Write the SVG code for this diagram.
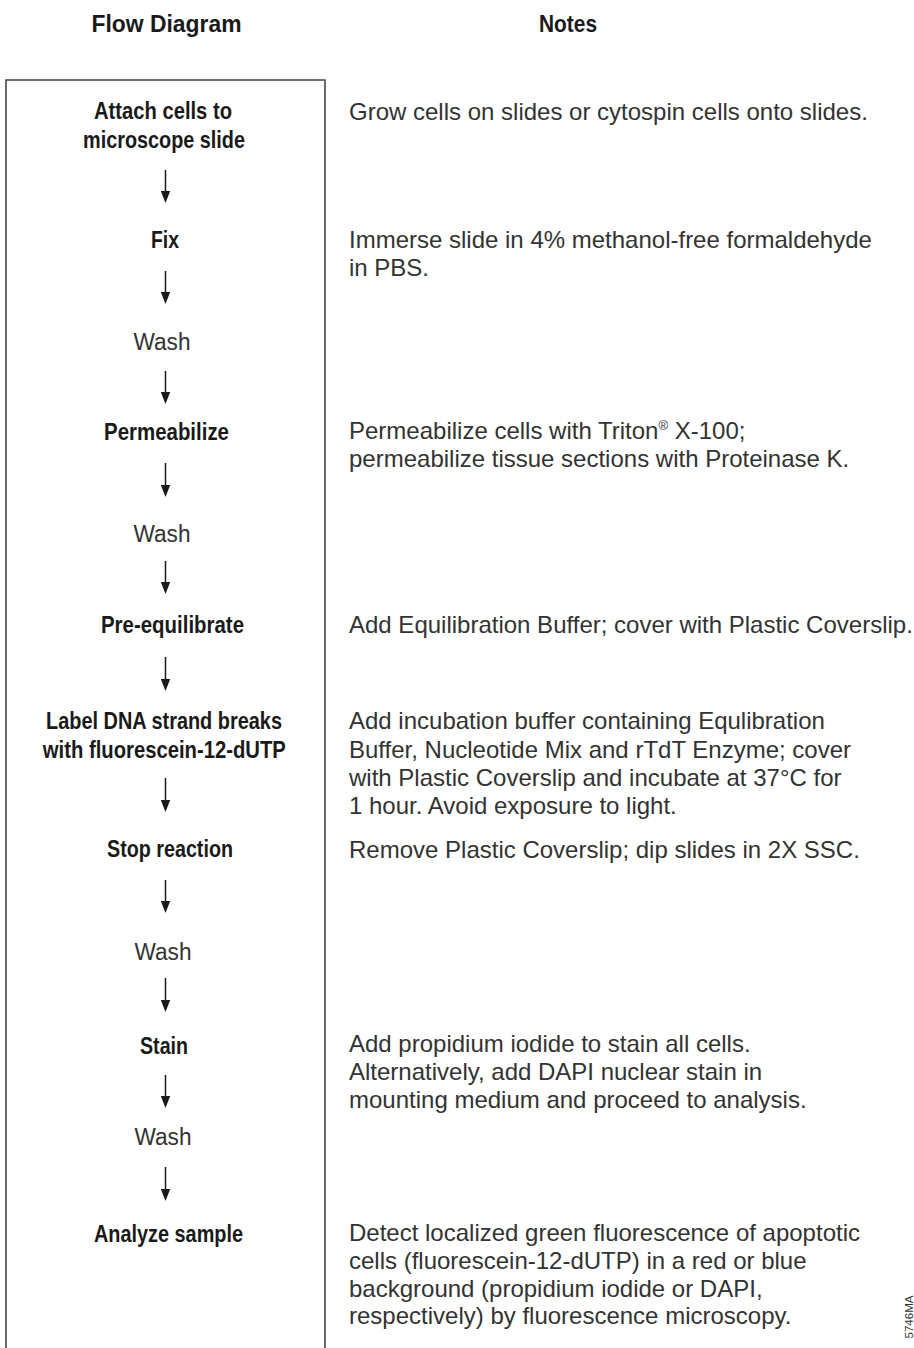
<svg xmlns="http://www.w3.org/2000/svg" width="914" height="1348" viewBox="0 0 914 1348">
  <defs>
    <style>
      .hd { font-family: "Liberation Sans", Arial, sans-serif; font-weight: bold; font-size: 24.5px; fill: #1a1a1a; text-anchor: middle; }
      .lb { font-family: "Liberation Sans", Arial, sans-serif; font-weight: bold; font-size: 24px; fill: #1a1a1a; text-anchor: middle; }
      .wash { font-family: "Liberation Sans", Arial, sans-serif; font-size: 23px; fill: #333; text-anchor: middle; }
      .nt { font-family: "Liberation Sans", Arial, sans-serif; font-size: 24px; fill: #333; }
      .frame { fill: none; stroke: #444; stroke-width: 1.6; }
      .arr { stroke: #1a1a1a; stroke-width: 1.5; fill: none; marker-end: url(#ah); }
      .code { font-family: "Liberation Sans", Arial, sans-serif; font-size: 11.5px; fill: #333; text-anchor: middle; }
    </style>
    <marker id="ah" markerUnits="userSpaceOnUse" viewBox="0 0 12 10" markerWidth="12" markerHeight="10" refX="6" refY="5" orient="auto">
      <path d="M0,0.3 L12,5 L0,9.7 Z" fill="#1a1a1a"/>
    </marker>
  </defs>
  <rect width="914" height="1348" fill="#ffffff"/>

  <g id="headers">
    <text class="hd" x="166.5" y="32" textLength="150" lengthAdjust="spacingAndGlyphs">Flow Diagram</text>
    <text class="hd" x="568" y="32" textLength="58" lengthAdjust="spacingAndGlyphs">Notes</text>
  </g>

  <path id="frame" class="frame" d="M6,1348 V80 H325 V1348"/>

  <g id="step-attach">
    <text class="lb" x="163" y="119" textLength="138" lengthAdjust="spacingAndGlyphs">Attach cells to</text>
    <text class="lb" x="164" y="148" textLength="162" lengthAdjust="spacingAndGlyphs">microscope slide</text>
    <text class="nt" x="349" y="120">Grow cells on slides or cytospin cells onto slides.</text>
  </g>
  <g id="step-fix">
    <text class="lb" x="165" y="248" textLength="28" lengthAdjust="spacingAndGlyphs">Fix</text>
    <text class="nt" x="349" y="248">Immerse slide in 4% methanol-free formaldehyde</text>
    <text class="nt" x="349" y="276">in PBS.</text>
  </g>
  <g id="step-wash1">
    <text class="wash" x="162" y="350" textLength="57" lengthAdjust="spacingAndGlyphs">Wash</text>
  </g>
  <g id="step-permeabilize">
    <text class="lb" x="166.5" y="440" textLength="125" lengthAdjust="spacingAndGlyphs">Permeabilize</text>
    <text class="nt" x="349" y="439">Permeabilize cells with Triton<tspan font-size="13" dy="-9">®</tspan><tspan dy="9"> X-100;</tspan></text>
    <text class="nt" x="349" y="467">permeabilize tissue sections with Proteinase K.</text>
  </g>
  <g id="step-wash2">
    <text class="wash" x="162" y="542" textLength="57" lengthAdjust="spacingAndGlyphs">Wash</text>
  </g>
  <g id="step-preequilibrate">
    <text class="lb" x="172.5" y="633" textLength="143" lengthAdjust="spacingAndGlyphs">Pre-equilibrate</text>
    <text class="nt" x="349" y="633">Add Equilibration Buffer; cover with Plastic Coverslip.</text>
  </g>
  <g id="step-label">
    <text class="lb" x="164" y="729" textLength="236" lengthAdjust="spacingAndGlyphs">Label DNA strand breaks</text>
    <text class="lb" x="164.3" y="758" textLength="243" lengthAdjust="spacingAndGlyphs">with fluorescein-12-dUTP</text>
    <text class="nt" x="349" y="729">Add incubation buffer containing Equlibration</text>
    <text class="nt" x="349" y="757.5">Buffer, Nucleotide Mix and rTdT Enzyme; cover</text>
    <text class="nt" x="349" y="786">with Plastic Coverslip and incubate at 37°C for</text>
    <text class="nt" x="349" y="814">1 hour. Avoid exposure to light.</text>
  </g>
  <g id="step-stop">
    <text class="lb" x="170" y="857" textLength="126" lengthAdjust="spacingAndGlyphs">Stop reaction</text>
    <text class="nt" x="349" y="858">Remove Plastic Coverslip; dip slides in 2X SSC.</text>
  </g>
  <g id="step-wash3">
    <text class="wash" x="163" y="960" textLength="57" lengthAdjust="spacingAndGlyphs">Wash</text>
  </g>
  <g id="step-stain">
    <text class="lb" x="164" y="1053.5" textLength="48" lengthAdjust="spacingAndGlyphs">Stain</text>
    <text class="nt" x="349" y="1052">Add propidium iodide to stain all cells.</text>
    <text class="nt" x="349" y="1080">Alternatively, add DAPI nuclear stain in</text>
    <text class="nt" x="349" y="1108">mounting medium and proceed to analysis.</text>
  </g>
  <g id="step-wash4">
    <text class="wash" x="163" y="1145" textLength="57" lengthAdjust="spacingAndGlyphs">Wash</text>
  </g>
  <g id="step-analyze">
    <text class="lb" x="168.5" y="1241.5" textLength="149" lengthAdjust="spacingAndGlyphs">Analyze sample</text>
    <text class="nt" x="349" y="1241">Detect localized green fluorescence of apoptotic</text>
    <text class="nt" x="349" y="1268.5">cells (fluorescein-12-dUTP) in a red or blue</text>
    <text class="nt" x="349" y="1296.5">background (propidium iodide or DAPI,</text>
    <text class="nt" x="349" y="1323.5">respectively) by fluorescence microscopy.</text>
  </g>

  <g id="connectors">
    <line class="arr" x1="165.5" y1="170" x2="165.5" y2="197"/>
    <line class="arr" x1="165.5" y1="271" x2="165.5" y2="298"/>
    <line class="arr" x1="165.5" y1="371" x2="165.5" y2="398"/>
    <line class="arr" x1="165.5" y1="463" x2="165.5" y2="491"/>
    <line class="arr" x1="165.5" y1="561" x2="165.5" y2="588"/>
    <line class="arr" x1="165.5" y1="657" x2="165.5" y2="685"/>
    <line class="arr" x1="165.5" y1="778" x2="165.5" y2="806"/>
    <line class="arr" x1="165.5" y1="880" x2="165.5" y2="907"/>
    <line class="arr" x1="165.5" y1="978" x2="165.5" y2="1006"/>
    <line class="arr" x1="165.5" y1="1075" x2="165.5" y2="1102"/>
    <line class="arr" x1="165.5" y1="1167" x2="165.5" y2="1195"/>
  </g>

  <text id="figure-code" class="code" transform="translate(913 1317) rotate(-90)">5746MA</text>
</svg>
